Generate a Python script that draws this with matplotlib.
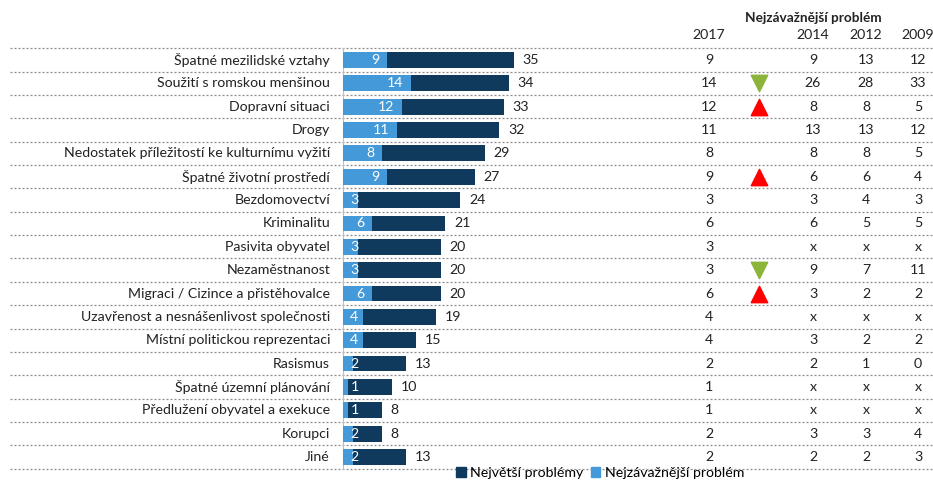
import matplotlib
matplotlib.use('Agg')
import matplotlib.pyplot as plt
from matplotlib.patches import Patch

plt.rcParams['font.family'] = ['Lato', 'DejaVu Sans']

# ---- data ----
labels = ['Špatné mezilidské vztahy', 'Soužití s romskou menšinou', 'Dopravní situaci',
          'Drogy', 'Nedostatek příležitostí ke kulturnímu vyžití', 'Špatné životní prostředí',
          'Bezdomovectví', 'Kriminalitu', 'Pasivita obyvatel', 'Nezaměstnanost',
          'Migraci / Cizince a přistěhovalce', 'Uzavřenost a nesnášenlivost společnosti',
          'Místní politickou reprezentaci', 'Rasismus', 'Špatné územní plánování',
          'Předlužení obyvatel a exekuce', 'Korupci', 'Jiné']
nejvetsi = [35, 34, 33, 32, 29, 27, 24, 21, 20, 20, 20, 19, 15, 13, 10, 8, 8, 13]
nejzavaznejsi = [9, 14, 12, 11, 8, 9, 3, 6, 3, 3, 6, 4, 4, 2, 1, 1, 2, 2]

years = ['2017', '2014', '2012', '2009']
col2017 = [str(v) for v in nejzavaznejsi]
col2014 = ['9', '26', '8', '13', '8', '6', '3', '6', 'x', '9', '3', 'x', '3', '2', 'x', 'x', '3', '2']
col2012 = ['13', '28', '8', '13', '8', '6', '4', '5', 'x', '7', '2', 'x', '2', '1', 'x', 'x', '3', '2']
col2009 = ['12', '33', '5', '12', '5', '4', '3', '5', 'x', '11', '2', 'x', '2', '0', 'x', 'x', '4', '3']
trend = ['', 'down', 'up', '', '', 'up', '', '', '', 'down', 'up', '', '', '', '', '', '', '']

DARK = '#0f3a5e'
LIGHT = '#4499d8'
TXT = '#222222'

# ---- layout in pixels ----
W, H = 933, 480
PX = 4.88          # pixels per percent
X0 = 343           # bar origin (px)
ROW0, ROWH = 60, 23.35


def dx(px):
    return (px - X0) / PX


fig = plt.figure(figsize=(W / 100, H / 100), dpi=100)
ax = fig.add_axes([0, 0, 1, 1])
ax.set_xlim(dx(0), dx(W))
ax.set_ylim((H - ROW0) / ROWH, -ROW0 / ROWH)
ax.axis('off')

n = len(labels)
ys = list(range(n))

# dotted separators
for k in range(n + 1):
    ax.plot([dx(10), dx(W)], [k - 0.5, k - 0.5], color='#8c8c8c', lw=0.9,
            ls=(0, (1.6, 1.6)), zorder=1)
ax.plot([0, 0], [-0.5, n - 0.5], color='#bfbfbf', lw=0.8, zorder=1)

# bars
ax.barh(ys, nejvetsi, height=0.68, color=DARK, zorder=2)
ax.barh(ys, nejzavaznejsi, height=0.68, color=LIGHT, zorder=3)

fs = 10.2
for i in ys:
    ax.text(dx(330), i, labels[i], ha='right', va='center', fontsize=fs, color=TXT)
    ax.text(nejvetsi[i] + 1.8, i, str(nejvetsi[i]), ha='left', va='center',
            fontsize=fs, color=TXT)
    v = nejzavaznejsi[i]
    if v <= 4:
        ax.text(1.5, i, str(v), ha='left', va='center', fontsize=fs, color='white', zorder=4)
    else:
        ax.text(v - 1.6, i, str(v), ha='right', va='center', fontsize=fs, color='white', zorder=4)

# table
col_x = [709, 813, 866, 918]
for cx, yr, col in zip(col_x, years, [col2017, col2014, col2012, col2009]):
    ax.text(dx(cx), -1.05, yr, ha='center', va='center', fontsize=fs, color=TXT)
    for i in ys:
        ax.text(dx(cx), i, col[i], ha='center', va='center', fontsize=fs, color=TXT)
ax.text(dx(813), -1.8, 'Nejzávažnější problém', ha='center', va='center',
        fontsize=fs - 0.4, fontweight='bold', color=TXT)

for i in ys:
    if trend[i] == 'up':
        ax.scatter(dx(759), i, marker='^', s=140, color='#ff0000', zorder=5)
    elif trend[i] == 'down':
        ax.scatter(dx(759), i, marker='v', s=140, color='#8db43a', zorder=5)

handles = [Patch(color=DARK, label='Největší problémy'),
           Patch(color=LIGHT, label='Nejzávažnější problém')]
fig.legend(handles=handles, loc='center left', bbox_to_anchor=(456 / W, 7 / H),
           ncol=2, frameon=False, fontsize=fs, handlelength=0.7, handleheight=0.7,
           handletextpad=0.3, columnspacing=0.5, borderaxespad=0, borderpad=0)

fig.savefig('out.png', dpi=100)
